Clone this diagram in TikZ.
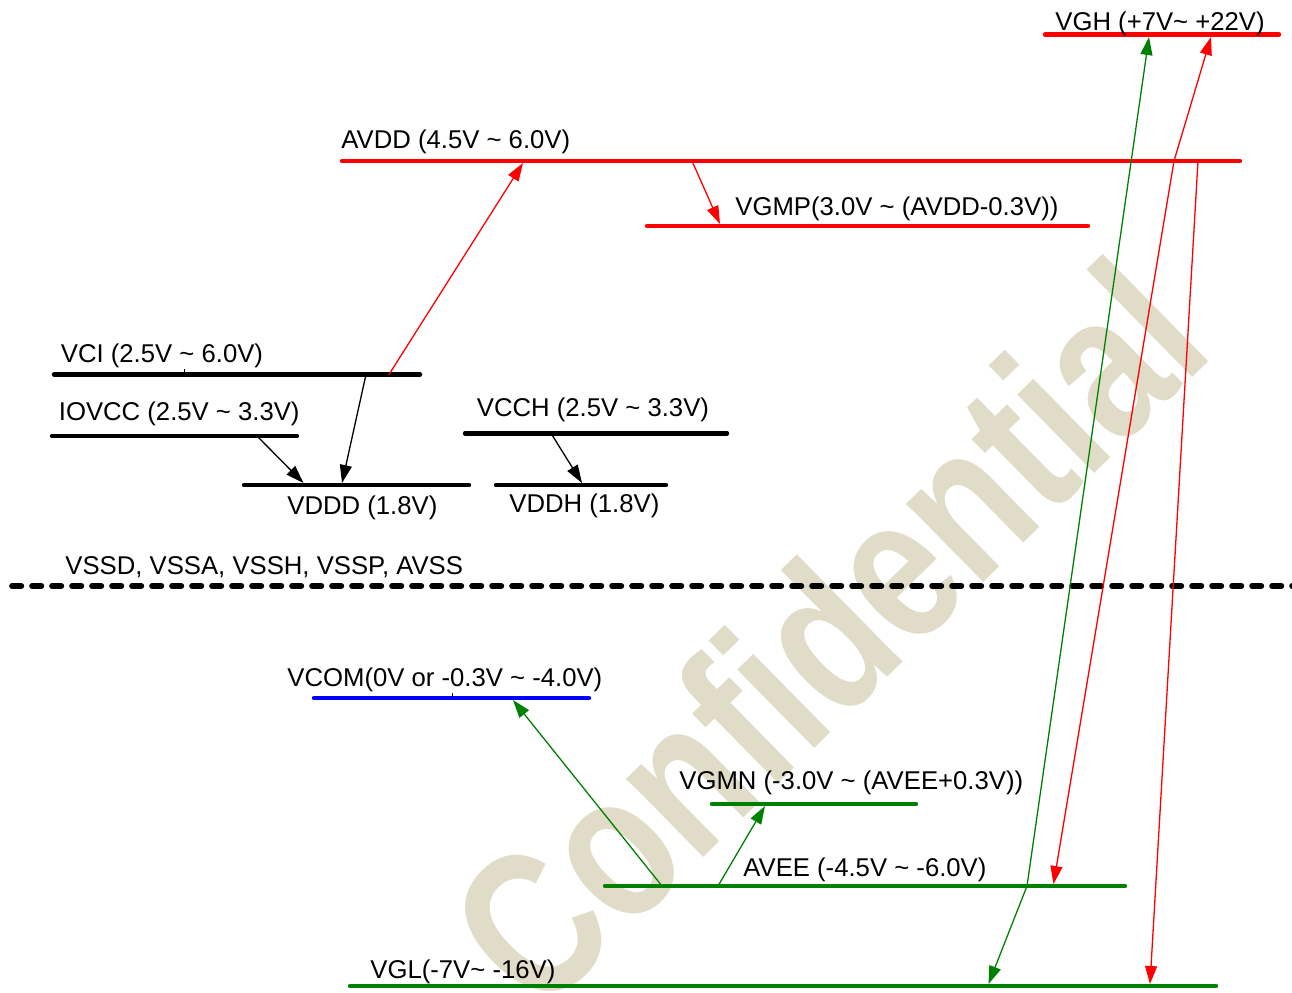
\documentclass[tikz,border=0pt]{standalone}
\usepackage{fontspec}
\setmainfont{Liberation Sans}
\usetikzlibrary{arrows.meta}
\definecolor{wmark}{RGB}{224,220,200}
\definecolor{dgreen}{RGB}{0,128,0}
\begin{document}
\begin{tikzpicture}[x=0.5pt,y=-0.5pt,
  level/.style={line width=2.2pt, line cap=round},
  conn/.style={line width=0.65pt, -{Triangle[length=9pt,width=6pt]}},
  lbl/.style={anchor=base west, inner sep=0pt, font=\fontsize{12.85pt}{15pt}\selectfont},
  tick/.style={line width=0.4pt}
]
\useasboundingbox (0,0) rectangle (1292,992);
\clip (0,0) rectangle (1292,992);
% watermark
\node[rotate=44.5, xscale=0.79, anchor=center, inner sep=0pt, text=wmark,
      font=\fontsize{104pt}{104pt}\selectfont\bfseries] (wm) at (826,633) {Confidential};

% level coordinates
\coordinate (vghL) at (1045,34.5);  \coordinate (vghR) at (1279,34.5);
\coordinate (avddL) at (342,161);   \coordinate (avddR) at (1240,161);
\coordinate (vgmpL) at (647,226);   \coordinate (vgmpR) at (1088,226);
\coordinate (vciL) at (54,374.5);   \coordinate (vciR) at (420,374.5);
\coordinate (iovccL) at (52,436);   \coordinate (iovccR) at (297,436);
\coordinate (vdddL) at (244,485);   \coordinate (vdddR) at (469,485);
\coordinate (vcchL) at (465,433.3); \coordinate (vcchR) at (727,433.3);
\coordinate (vddhL) at (496,485);   \coordinate (vddhR) at (666,485);
\coordinate (gndL) at (12,586);     \coordinate (gndR) at (1292,586);
\coordinate (vcomL) at (314,698);   \coordinate (vcomR) at (589,698);
\coordinate (vgmnL) at (712,804);   \coordinate (vgmnR) at (916,804);
\coordinate (aveeL) at (605,886);   \coordinate (aveeR) at (1125,886);
\coordinate (vglL) at (350,986);    \coordinate (vglR) at (1216,986);

% levels
\draw[level,red] (vghL) -- (vghR);
\draw[level,red] (avddL) -- (avddR);
\draw[level,red] (vgmpL) -- (vgmpR);
\draw[level] (vciL) -- (vciR);
\draw[level] (iovccL) -- (iovccR);
\draw[level] (vdddL) -- (vdddR);
\draw[level] (vcchL) -- (vcchR);
\draw[level] (vddhL) -- (vddhR);
\draw[line width=2.8pt, line cap=round, dash pattern=on 4.7pt off 5.3pt] (gndL) -- (gndR);
\draw[level,blue] (vcomL) -- (vcomR);
\draw[level,dgreen] (vgmnL) -- (vgmnR);
\draw[level,dgreen] (aveeL) -- (aveeR);
\draw[level,dgreen] (vglL) -- (vglR);

% small ticks
\coordinate (tk1a) at (184,369); \coordinate (tk1b) at (184,373);
\coordinate (tk2a) at (452,693); \coordinate (tk2b) at (452,697);
\draw[tick] (tk1a) -- (tk1b);
\draw[tick] (tk2a) -- (tk2b);

% labels
\node[lbl] (tvgh) at (1055,30) {VGH (+7V\char`~{} +22V)};
\node[lbl] (tavdd) at (341,148) {AVDD (4.5V \char`~{} 6.0V)};
\node[lbl] (tvgmp) at (735,215) {VGMP(3.0V \char`~{} (AVDD-0.3V))};
\node[lbl] (tvci) at (60.5,362) {VCI (2.5V \char`~{} 6.0V)};
\node[lbl] (tiovcc) at (58.5,420.5) {IOVCC (2.5V \char`~{} 3.3V)};
\node[lbl] (tvcch) at (476.5,416.5) {VCCH (2.5V \char`~{} 3.3V)};
\node[lbl] (tvddd) at (287,514) {VDDD (1.8V)};
\node[lbl] (tvddh) at (509,512.7) {VDDH (1.8V)};
\node[lbl] (tgnd) at (65,574) {VSSD, VSSA, VSSH, VSSP, AVSS};
\node[lbl] (tvcom) at (287,686.7) {VCOM(0V or -0.3V \char`~{} -4.0V)};
\node[lbl] (tvgmn) at (679,789.3) {VGMN (-3.0V \char`~{} (AVEE+0.3V))};
\node[lbl] (tavee) at (743,876.7) {AVEE (-4.5V \char`~{} -6.0V)};
\node[lbl] (tvgl) at (370,978) {VGL(-7V\char`~{} -16V)};

% connector coordinates
\coordinate (vciA) at (389,374.5);  \coordinate (avddA) at (523,163);
\coordinate (avddB) at (692,161);   \coordinate (vgmpA) at (720,224);
\coordinate (vciB) at (366,374.5);  \coordinate (vdddA) at (342,483);
\coordinate (iovccA) at (257,436);  \coordinate (vdddB) at (303.5,483);
\coordinate (vcchA) at (551,433.3); \coordinate (vddhA) at (582,483);
\coordinate (aveeA) at (662,886);   \coordinate (vcomA) at (513,700);
\coordinate (aveeB) at (718,886);   \coordinate (vgmnA) at (765,806);
\coordinate (aveeC) at (1027,886);  \coordinate (vghA) at (1149,37);
\coordinate (vglA) at (988.5,984);
\coordinate (avddC) at (1174,161);  \coordinate (vghB) at (1211,37);
\coordinate (aveeD) at (1053.5,884);
\coordinate (avddD) at (1198,161);  \coordinate (vglB) at (1150,984);

% connectors
\draw[conn,red] (vciA) -- (avddA);
\draw[conn,red] (avddB) -- (vgmpA);
\draw[conn] (vciB) -- (vdddA);
\draw[conn] (iovccA) -- (vdddB);
\draw[conn] (vcchA) -- (vddhA);
\draw[conn,dgreen] (aveeA) -- (vcomA);
\draw[conn,dgreen] (aveeB) -- (vgmnA);
\draw[conn,dgreen] (aveeC) -- (vghA);
\draw[conn,dgreen] (aveeC) -- (vglA);
\draw[conn,red] (avddC) -- (vghB);
\draw[conn,red] (avddC) -- (aveeD);
\draw[conn,red] (avddD) -- (vglB);
\end{tikzpicture}
\end{document}
